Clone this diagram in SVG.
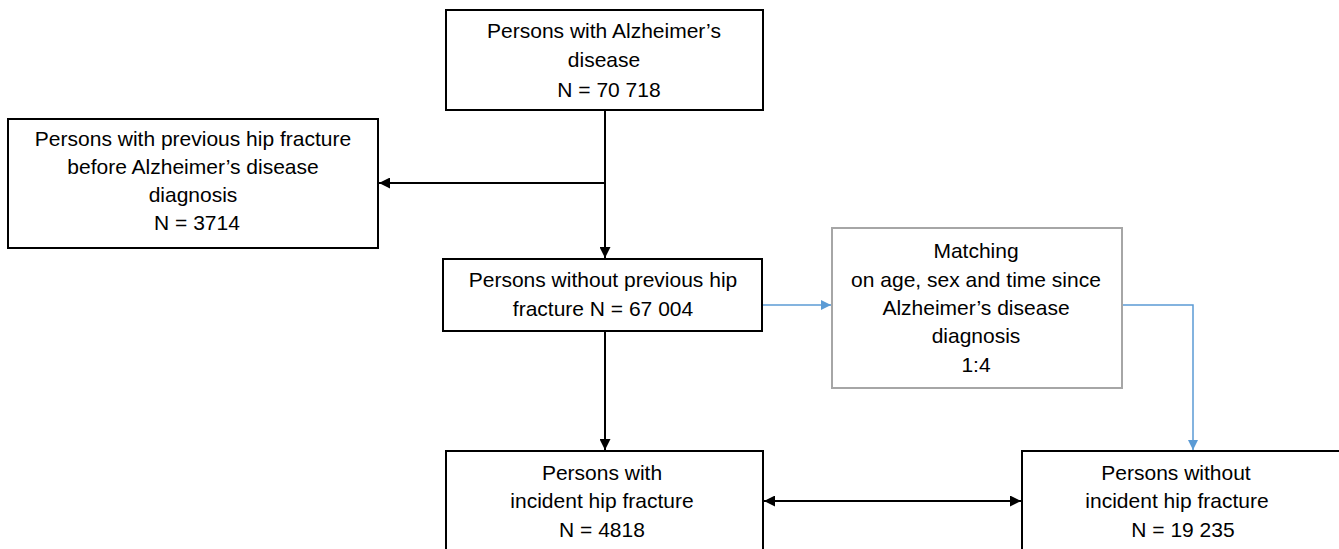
<svg xmlns="http://www.w3.org/2000/svg" width="1339" height="549" viewBox="0 0 1339 549">
<defs>
<style>
.box{fill:#fff;stroke:#000;stroke-width:2}
.gbox{fill:#fff;stroke:#a6a6a6;stroke-width:2}
text{font-family:"Liberation Sans",Arial,sans-serif;font-size:21px;fill:#000;text-anchor:middle}
.blk{fill:none;stroke:#000;stroke-width:2}
.blu{fill:none;stroke:#5b9bd5;stroke-width:1.5}
</style>
<marker id="ab" viewBox="0 0 10 10" refX="10" refY="5" markerWidth="5.5" markerHeight="5.5" markerUnits="strokeWidth" orient="auto-start-reverse"><path d="M0,0 L10,5 L0,10 z" fill="#000"/></marker>
<marker id="au" viewBox="0 0 10 10" refX="10" refY="5" markerWidth="7" markerHeight="7" markerUnits="strokeWidth" orient="auto"><path d="M0,0 L10,5 L0,10 z" fill="#5b9bd5"/></marker>
</defs>
<rect width="1339" height="549" fill="#fff"/>
<g id="connectors">
<path class="blk" d="M605,110 V258" marker-end="url(#ab)"/>
<path class="blk" d="M605,183 H379" marker-end="url(#ab)"/>
<path class="blk" d="M605,331 V450" marker-end="url(#ab)"/>
<path class="blk" d="M764,501 H1021" marker-start="url(#ab)" marker-end="url(#ab)"/>
<path class="blu" d="M763,305 H831" marker-end="url(#au)"/>
<path class="blu" d="M1122,305 H1193 V450" marker-end="url(#au)"/>
</g>
<g id="n1">
<rect class="box" x="446" y="10" width="317" height="100"/>
<text x="604" y="38">Persons with Alzheimer’s</text>
<text x="604" y="67">disease</text>
<text x="609" y="97">N = 70 718</text>
</g>
<g id="n2">
<rect class="box" x="8" y="119" width="370" height="129"/>
<text x="193" y="146">Persons with previous hip fracture</text>
<text x="193" y="174">before Alzheimer’s disease</text>
<text x="193" y="202">diagnosis</text>
<text x="197" y="230">N = 3714</text>
</g>
<g id="n3">
<rect class="box" x="443" y="259" width="319" height="72"/>
<text x="603" y="287">Persons without previous hip</text>
<text x="603" y="316">fracture N = 67 004</text>
</g>
<g id="n4">
<rect class="gbox" x="832" y="228" width="290" height="160"/>
<text x="976" y="258">Matching</text>
<text x="976" y="287">on age, sex and time since</text>
<text x="976" y="315">Alzheimer’s disease</text>
<text x="976" y="343">diagnosis</text>
<text x="976" y="372">1:4</text>
</g>
<g id="n5">
<rect class="box" x="446" y="451" width="317" height="110"/>
<text x="602" y="480">Persons with</text>
<text x="602" y="508">incident hip fracture</text>
<text x="602" y="537">N = 4818</text>
</g>
<g id="n6">
<rect class="box" x="1022" y="451" width="330" height="110"/>
<text x="1176" y="480">Persons without</text>
<text x="1177" y="508">incident hip fracture</text>
<text x="1183" y="537">N = 19 235</text>
</g>
</svg>
